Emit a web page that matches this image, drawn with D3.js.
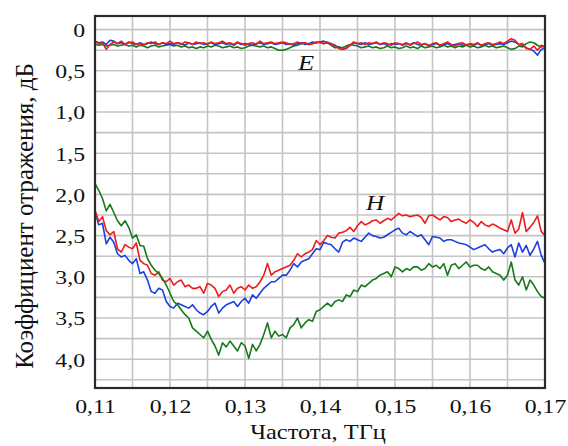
<!DOCTYPE html>
<html>
<head>
<meta charset="utf-8">
<script src="https://cdn.jsdelivr.net/npm/d3@7"></script>
<style>
  body { margin: 0; background: #fff; }
  text { font-family: "Liberation Serif", "Times New Roman", serif; fill: #111; }
</style>
</head>
<body>
<div id="chart"></div>
<script>
// Frequency grid, THz (step 0.0005)
const freq = d3.range(121).map(i => 0.11 + i * 0.0005);

// H polarisation, dB
const hRed = [2.19,2.33,2.27,2.44,2.49,2.45,2.66,2.70,2.61,2.64,
  2.66,2.59,2.80,2.84,2.86,2.96,2.98,2.94,3.04,3.06,
  3.02,3.10,3.06,3.04,3.12,3.10,3.14,3.14,3.12,3.20,
  3.08,3.10,3.14,3.24,3.18,3.16,3.10,3.20,3.14,3.12,
  3.16,3.10,3.14,3.12,3.06,2.98,2.84,2.98,2.94,2.92,
  2.90,2.88,2.86,2.80,2.72,2.76,2.72,2.70,2.67,2.56,
  2.61,2.56,2.50,2.52,2.53,2.47,2.46,2.44,2.40,2.45,
  2.38,2.33,2.37,2.35,2.32,2.31,2.35,2.32,2.29,2.31,
  2.27,2.23,2.26,2.25,2.27,2.26,2.25,2.28,2.35,2.26,
  2.25,2.28,2.31,2.27,2.28,2.33,2.31,2.30,2.33,2.35,
  2.31,2.34,2.39,2.33,2.37,2.39,2.36,2.38,2.41,2.43,
  2.45,2.31,2.47,2.42,2.22,2.45,2.40,2.34,2.26,2.45,2.50];
const hBlue = [2.21,2.37,2.35,2.60,2.52,2.58,2.72,2.76,2.74,2.80,
  2.84,2.78,2.96,2.94,3.04,3.18,3.20,3.14,3.16,3.30,
  3.36,3.38,3.32,3.34,3.36,3.38,3.34,3.40,3.44,3.46,
  3.42,3.36,3.32,3.44,3.38,3.34,3.32,3.30,3.36,3.30,
  3.26,3.32,3.22,3.26,3.20,3.14,3.10,3.06,3.06,3.02,
  2.98,2.98,2.92,2.84,2.88,2.82,2.80,2.78,2.72,2.66,
  2.67,2.58,2.60,2.61,2.66,2.70,2.58,2.55,2.57,2.53,
  2.55,2.57,2.52,2.47,2.50,2.51,2.53,2.52,2.49,2.46,
  2.43,2.41,2.47,2.49,2.45,2.48,2.51,2.49,2.55,2.61,
  2.51,2.52,2.53,2.57,2.55,2.55,2.57,2.59,2.60,2.61,
  2.64,2.67,2.65,2.63,2.61,2.66,2.70,2.68,2.67,2.72,
  2.65,2.61,2.76,2.59,2.70,2.62,2.74,2.66,2.57,2.74,2.84];
const hGreen = [1.87,1.95,2.05,2.20,2.12,2.22,2.32,2.38,2.32,2.40,
  2.53,2.49,2.62,2.63,2.78,2.86,2.92,2.96,3.02,3.10,
  3.20,3.30,3.34,3.40,3.46,3.50,3.62,3.66,3.70,3.74,
  3.66,3.76,3.84,3.95,3.80,3.85,3.78,3.84,3.90,3.80,
  3.84,3.99,3.82,3.90,3.82,3.70,3.56,3.74,3.66,3.72,
  3.70,3.74,3.62,3.58,3.50,3.62,3.56,3.52,3.54,3.42,
  3.40,3.36,3.32,3.36,3.30,3.28,3.30,3.22,3.24,3.16,
  3.18,3.10,3.12,3.08,3.04,3.02,2.98,2.96,2.94,3.00,
  2.88,2.90,2.94,2.90,2.92,2.88,2.88,2.92,2.90,2.84,
  2.88,2.86,2.90,2.84,2.98,2.86,2.84,2.90,2.86,2.82,
  2.88,2.86,2.86,2.90,2.92,2.88,2.94,2.96,2.98,3.04,
  2.98,2.82,3.04,3.10,3.00,3.16,3.04,3.10,3.18,3.24,3.26];

// E polarisation, dB
const eRed = [0.15,0.17,0.16,0.24,0.18,0.15,0.17,0.14,0.18,0.16,
  0.15,0.18,0.17,0.19,0.16,0.17,0.15,0.18,0.16,0.17,
  0.14,0.17,0.16,0.18,0.15,0.16,0.18,0.15,0.17,0.16,
  0.18,0.15,0.17,0.16,0.14,0.17,0.16,0.18,0.15,0.17,
  0.19,0.17,0.16,0.18,0.14,0.17,0.16,0.15,0.17,0.16,
  0.15,0.16,0.18,0.17,0.15,0.17,0.16,0.18,0.17,0.15,
  0.16,0.17,0.15,0.18,0.20,0.23,0.24,0.22,0.19,0.15,
  0.17,0.16,0.18,0.16,0.17,0.15,0.18,0.16,0.17,0.19,
  0.16,0.17,0.18,0.16,0.19,0.17,0.15,0.18,0.17,0.20,
  0.17,0.16,0.19,0.17,0.15,0.18,0.20,0.17,0.16,0.19,
  0.17,0.18,0.16,0.19,0.17,0.16,0.18,0.17,0.15,0.17,
  0.14,0.11,0.13,0.18,0.17,0.23,0.24,0.20,0.25,0.19,0.21];
const eBlue = [0.14,0.16,0.15,0.18,0.13,0.14,0.17,0.16,0.18,0.15,
  0.17,0.18,0.16,0.18,0.17,0.15,0.17,0.18,0.16,0.18,
  0.17,0.18,0.16,0.17,0.19,0.16,0.18,0.17,0.16,0.18,
  0.17,0.16,0.18,0.17,0.16,0.18,0.17,0.19,0.16,0.18,
  0.17,0.18,0.19,0.17,0.16,0.18,0.17,0.16,0.18,0.17,
  0.16,0.18,0.17,0.19,0.17,0.16,0.18,0.17,0.15,0.16,
  0.15,0.14,0.16,0.17,0.19,0.22,0.24,0.23,0.19,0.16,
  0.17,0.18,0.16,0.18,0.17,0.16,0.18,0.17,0.19,0.17,
  0.18,0.17,0.19,0.17,0.18,0.16,0.18,0.19,0.17,0.19,
  0.18,0.17,0.19,0.18,0.17,0.19,0.18,0.17,0.19,0.18,
  0.18,0.19,0.17,0.19,0.18,0.17,0.19,0.18,0.17,0.18,
  0.16,0.14,0.15,0.18,0.19,0.22,0.24,0.26,0.31,0.24,0.22];
const eGreen = [0.18,0.19,0.18,0.20,0.19,0.18,0.20,0.19,0.18,0.20,
  0.19,0.21,0.19,0.20,0.22,0.20,0.19,0.21,0.20,0.19,
  0.18,0.20,0.19,0.21,0.20,0.22,0.21,0.23,0.21,0.22,
  0.20,0.21,0.19,0.20,0.22,0.21,0.20,0.22,0.21,0.23,
  0.22,0.20,0.19,0.20,0.21,0.20,0.22,0.21,0.23,0.25,
  0.25,0.24,0.22,0.20,0.19,0.17,0.16,0.18,0.17,0.16,
  0.15,0.17,0.16,0.19,0.22,0.21,0.22,0.20,0.18,0.19,
  0.20,0.22,0.21,0.20,0.22,0.21,0.23,0.22,0.20,0.22,
  0.21,0.23,0.22,0.20,0.22,0.21,0.23,0.20,0.22,0.21,
  0.20,0.22,0.21,0.19,0.21,0.20,0.22,0.20,0.21,0.19,
  0.21,0.20,0.22,0.21,0.19,0.21,0.20,0.22,0.21,0.20,
  0.22,0.24,0.23,0.20,0.21,0.17,0.15,0.16,0.19,0.21,0.20];

const xTicks = [0.11, 0.12, 0.13, 0.14, 0.15, 0.16, 0.17];
const yTicks = [0, 0.5, 1.0, 1.5, 2.0, 2.5, 3.0, 3.5, 4.0];
const xTitle = "Частота, ТГц";
const yTitle = "Коэффициент отражения, дБ";

const W = 568, H = 446;
const plotL = 95, plotR = 545, plotT = 16, plotB = 388;

const svg = d3.select("#chart").append("svg")
    .attr("width", W)
    .attr("height", H);

const x = d3.scaleLinear().domain([0.11, 0.17]).range([plotL, plotR]);
const y = d3.scaleLinear().domain([0, 4]).range([29.6, 359.2]);

// grid
const grid = svg.append("g")
    .attr("stroke", "#c4c4c4")
    .attr("stroke-width", 1.6);
grid.selectAll("line.v")
    .data(d3.range(1, 12).map(i => 0.11 + i * 0.005))
    .join("line")
    .attr("class", "v")
    .attr("x1", d => x(d)).attr("x2", d => x(d))
    .attr("y1", plotT).attr("y2", plotB);
grid.selectAll("line.h")
    .data(d3.range(0, 18).map(i => i * 0.25))
    .join("line")
    .attr("class", "h")
    .attr("x1", plotL).attr("x2", plotR)
    .attr("y1", d => y(d)).attr("y2", d => y(d));

// curves
const line = d3.line()
    .x((d, i) => x(freq[i]))
    .y(d => y(d));

const series = [
    [hBlue, "#1d3fe0"], [hRed, "#ee1c1c"], [hGreen, "#16791a"],
    [eGreen, "#16791a"], [eBlue, "#1d3fe0"], [eRed, "#ee1c1c"]
];
series.forEach(([vals, col]) => {
    svg.append("path")
        .datum(vals)
        .attr("fill", "none")
        .attr("stroke", col)
        .attr("stroke-width", 1.6)
        .attr("stroke-linejoin", "round")
        .attr("d", line);
});

// frame
svg.append("rect")
    .attr("x", plotL).attr("y", plotT)
    .attr("width", plotR - plotL).attr("height", plotB - plotT)
    .attr("fill", "none")
    .attr("stroke", "#2a2a2a")
    .attr("stroke-width", 2.2);

// axes
const fmtX = d => d3.format(".2f")(d).replace(".", ",");
const fmtY = d => d === 0 ? "0" : d3.format(".1f")(d).replace(".", ",");

const xAxis = svg.append("g")
    .attr("transform", `translate(0,${plotB})`)
    .call(d3.axisBottom(x).tickValues(xTicks).tickFormat(fmtX).tickSize(0).tickPadding(12));
const yAxis = svg.append("g")
    .attr("transform", "translate(85,0)")
    .call(d3.axisLeft(y).tickValues(yTicks).tickFormat(fmtY).tickSize(0).tickPadding(0));

[xAxis, yAxis].forEach(g => {
    g.select(".domain").remove();
    g.selectAll("text")
        .attr("font-family", null)
        .attr("font-size", 19)
        .attr("fill", "#111")
        .attr("transform", "scale(1.25,1)");
});
yAxis.selectAll("text").attr("dy", "0.36em");

// titles
svg.append("text")
    .attr("transform", "translate(318,439) scale(1.22,1)")
    .attr("text-anchor", "middle")
    .attr("font-size", 20)
    .text(xTitle);
svg.append("text")
    .attr("transform", "translate(32.5,216) rotate(-90)")
    .attr("text-anchor", "middle")
    .attr("font-size", 25)
    .text(yTitle);

// curve labels
svg.append("text")
    .attr("transform", "translate(298,70) scale(1.2,1)")
    .attr("font-size", 22)
    .attr("font-style", "italic")
    .text("E");
svg.append("text")
    .attr("transform", "translate(366,210) scale(1.2,1)")
    .attr("font-size", 21)
    .attr("font-style", "italic")
    .text("H");
</script>
</body>
</html>
